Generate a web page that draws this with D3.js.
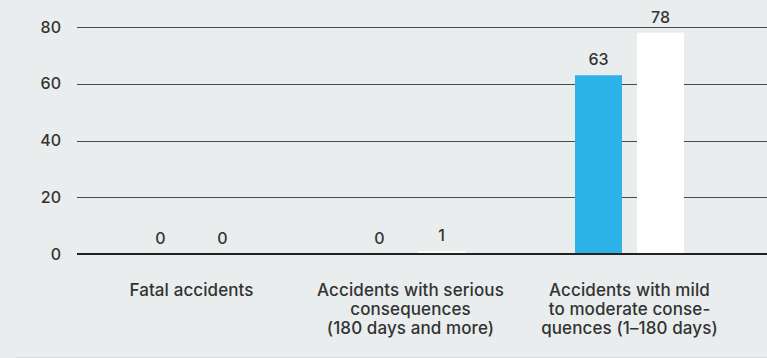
<!DOCTYPE html>
<html>
<head>
<meta charset="utf-8">
<script src="https://cdn.jsdelivr.net/npm/d3@7"></script>
<style>
  html, body { margin: 0; padding: 0; background: #e9edee; }
  svg { display: block; font-family: Inter, "Noto Sans", sans-serif; }
</style>
</head>
<body>
<svg id="chart" width="767" height="358"></svg>
<script>
// Accident counts per severity category, two periods
const categories = [
  ["Fatal accidents"],
  ["Accidents with serious", "consequences", "(180 days and more)"],
  ["Accidents with mild", "to moderate conse-", "quences (1–180 days)"]
];
const seriesNames = ["previous", "current"];
const seriesA = [0, 0, 63];
const seriesB = [0, 1, 78];
const yTicks = [0, 20, 40, 60, 80];

const colors = { previous: "#2db3e8", current: "#ffffff" };
const svg = d3.select("#chart");
const W = 767, H = 358;

// bottom rule
svg.append("line")
  .attr("x1", 16).attr("x2", W).attr("y1", 357.5).attr("y2", 357.5)
  .attr("stroke", "#d9dcde").attr("stroke-width", 1);

const y = d3.scaleLinear().domain([0, 80]).range([254, 27]);
const x0 = d3.scaleBand().domain(d3.range(categories.length)).range([82, 739]);
const x1 = d3.scaleBand().domain(seriesNames).range([-31 - 23.5, 31 + 23.5]).paddingInner(15 / 62);

// grid lines and tick labels
const yAxis = d3.axisLeft(y).tickValues(yTicks).tickSize(0).tickPadding(0);
const gAxis = svg.append("g").attr("transform", "translate(61,0)").call(yAxis);
gAxis.select(".domain").remove();
gAxis.selectAll("text")
  .attr("font-family", "Inter, sans-serif")
  .attr("font-size", 16).attr("font-weight", 500).attr("fill", "#333");

svg.append("g").selectAll("line")
  .data(yTicks.filter(d => d > 0))
  .join("line")
  .attr("x1", 77).attr("x2", W)
  .attr("y1", d => Math.round(y(d)) + 0.5).attr("y2", d => Math.round(y(d)) + 0.5)
  .attr("stroke", "#4a4a4a").attr("stroke-width", 1);

const data = categories.map((c, i) => ({ i, values: [
  { key: "previous", v: seriesA[i] },
  { key: "current", v: seriesB[i] }
]}));

const groups = svg.append("g").selectAll("g")
  .data(data).join("g")
  .attr("transform", d => `translate(${x0(d.i) + x0.bandwidth() / 2},0)`);

groups.selectAll("rect")
  .data(d => d.values).join("rect")
  .attr("x", d => x1(d.key))
  .attr("width", x1.bandwidth())
  .attr("y", d => y(d.v))
  .attr("height", d => y(0) - y(d.v))
  .attr("fill", d => colors[d.key]);

groups.selectAll("text.val")
  .data(d => d.values).join("text")
  .attr("class", "val")
  .attr("x", d => x1(d.key) + x1.bandwidth() / 2)
  .attr("y", d => y(d.v) - 10)
  .attr("text-anchor", "middle")
  .attr("font-size", 16).attr("font-weight", 500).attr("fill", "#333")
  .text(d => d.v);

// zero baseline
svg.append("line")
  .attr("x1", 77).attr("x2", W).attr("y1", y(0)).attr("y2", y(0))
  .attr("stroke", "#222").attr("stroke-width", 2.2);

// category labels
groups.append("text")
  .attr("text-anchor", "middle")
  .attr("font-size", 17).attr("font-weight", 500).attr("fill", "#333")
  .attr("letter-spacing", 0.1)
  .selectAll("tspan")
  .data(d => categories[d.i]).join("tspan")
  .attr("x", 0)
  .attr("y", (d, j) => 296 + j * 19)
  .text(d => d);
</script>
</body>
</html>
